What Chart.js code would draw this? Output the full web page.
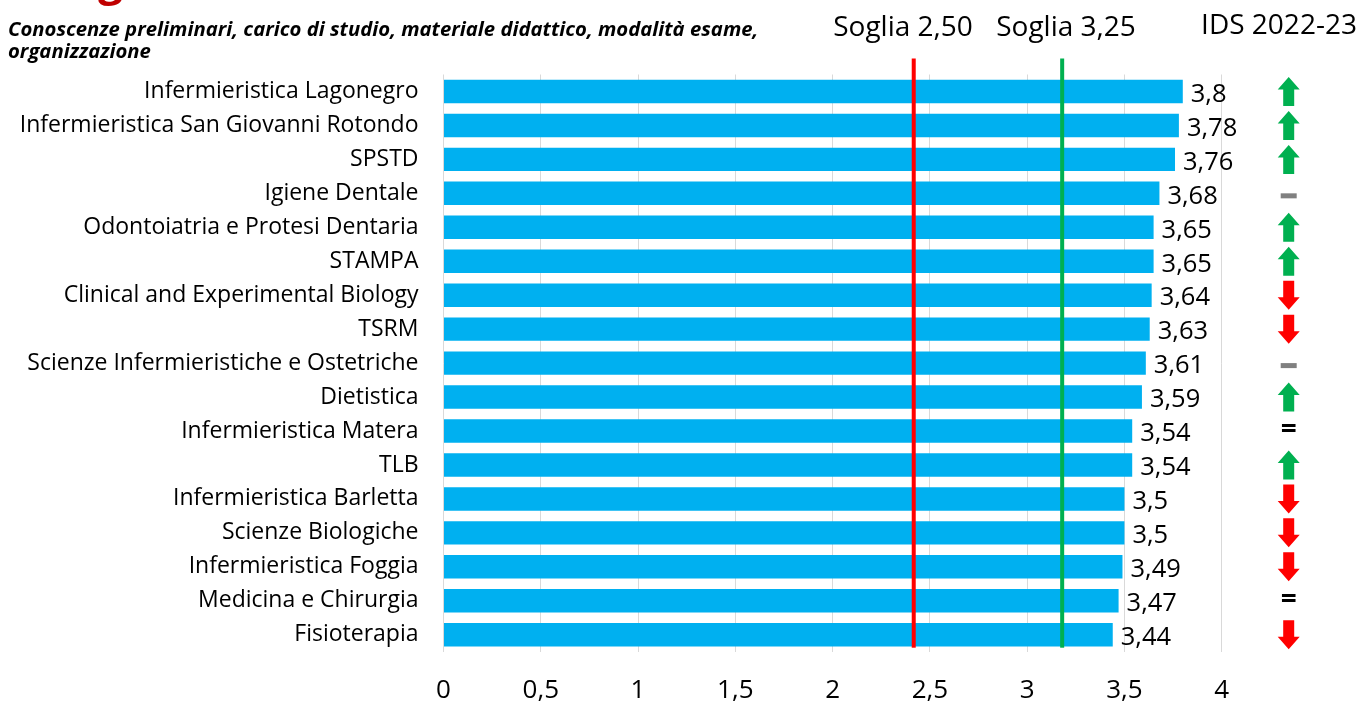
<!DOCTYPE html>
<html>
<head>
<meta charset="utf-8">
<script src="https://cdn.jsdelivr.net/npm/chart.js@4.4.1/dist/chart.umd.min.js"></script>
<style>
  html, body { margin: 0; padding: 0; background: #fff; overflow: hidden; }
  #wrap { width: 1372px; height: 720px; }
</style>
</head>
<body>
<div id="wrap"><canvas id="chart" width="1372" height="720"></canvas></div>
<script>
// data
const courses = [
    'Infermieristica Lagonegro',
    'Infermieristica San Giovanni Rotondo',
    'SPSTD',
    'Igiene Dentale',
    'Odontoiatria e Protesi Dentaria',
    'STAMPA',
    'Clinical and Experimental Biology',
    'TSRM',
    'Scienze Infermieristiche e Ostetriche',
    'Dietistica',
    'Infermieristica Matera',
    'TLB',
    'Infermieristica Barletta',
    'Scienze Biologiche',
    'Infermieristica Foggia',
    'Medicina e Chirurgia',
    'Fisioterapia'
];
const scores = [3.8, 3.78, 3.76, 3.68, 3.65, 3.65, 3.64, 3.63, 3.61, 3.59, 3.54, 3.54, 3.5, 3.5, 3.49, 3.47, 3.44];
// trend vs previous year: up / down / flat (grey dash) / same (=)
const trends = ['up', 'up', 'up', 'flat', 'up', 'up', 'down', 'down', 'flat', 'up', 'same', 'up', 'down', 'down', 'down', 'same', 'down'];
const xTicks = [0, 0.5, 1, 1.5, 2, 2.5, 3, 3.5, 4];
// where the threshold lines sit in the picture (labelled 2,50 and 3,25)
const thresholdAt = [2.417, 3.18];
const thresholdLabels = ['Soglia 2,50', 'Soglia 3,25'];
const thresholdColors = ['#FF0000', '#00B050'];
const subtitle = ['Conoscenze preliminari, carico di studio, materiale didattico, modalità esame,', 'organizzazione'];

const FONT = '"Open Sans", Lato, sans-serif';
const comma = v => String(v).replace('.', ',');

const overlay = {
    id: 'overlay',
    afterDatasetsDraw(chart) {
        const ctx = chart.ctx;
        const area = chart.chartArea;
        const x = chart.scales.x;
        const y = chart.scales.y;
        ctx.save();

        // value labels
        ctx.fillStyle = '#000';
        ctx.font = '25.5px ' + FONT;
        ctx.textAlign = 'left';
        ctx.textBaseline = 'middle';
        chart.getDatasetMeta(0).data.forEach((bar, i) => {
            ctx.fillText(comma(scores[i]), bar.x + 8, bar.y + 3);
        });

        // threshold lines
        thresholdAt.forEach((v, i) => {
            const px = x.getPixelForValue(v);
            ctx.fillStyle = thresholdColors[i];
            ctx.fillRect(px - 2, area.top - 16, 4, area.bottom - area.top + 12);
        });

        // trend markers
        const cx = area.right + 67;
        trends.forEach((t, i) => {
            const cy = y.getPixelForValue(i);
            if (t === 'up' || t === 'down') {
                const d = t === 'up' ? -1 : 1;
                ctx.fillStyle = t === 'up' ? '#00B050' : '#FF0000';
                ctx.beginPath();
                ctx.moveTo(cx, cy + d * 14.5);
                ctx.lineTo(cx + 11, cy + d * 2);
                ctx.lineTo(cx + 5.5, cy + d * 2);
                ctx.lineTo(cx + 5.5, cy - d * 14.5);
                ctx.lineTo(cx - 5.5, cy - d * 14.5);
                ctx.lineTo(cx - 5.5, cy + d * 2);
                ctx.lineTo(cx - 11, cy + d * 2);
                ctx.closePath();
                ctx.fill();
            } else if (t === 'flat') {
                ctx.fillStyle = '#808080';
                ctx.fillRect(cx - 8, cy, 16, 5);
            } else {
                ctx.fillStyle = '#000';
                ctx.font = 'bold 28px ' + FONT;
                ctx.textAlign = 'center';
                ctx.textBaseline = 'middle';
                ctx.fillText('=', cx, cy - 1);
            }
        });

        // headers
        ctx.fillStyle = '#000';
        ctx.font = '28px ' + FONT;
        ctx.textAlign = 'center';
        ctx.textBaseline = 'middle';
        ctx.fillText(thresholdLabels[0], 903, 28);
        ctx.fillText(thresholdLabels[1], 1066, 28);
        ctx.fillText('IDS 2022-23', 1279, 26);

        ctx.textAlign = 'left';
        ctx.font = 'italic bold 20.3px ' + FONT;
        ctx.fillText(subtitle[0], 8, 30);
        ctx.fillText(subtitle[1], 8, 52);

        // clipped page title above
        ctx.fillStyle = '#C00000';
        ctx.font = 'bold 44px ' + FONT;
        ctx.textBaseline = 'alphabetic';
        ctx.fillText('g', 98, -5);
        ctx.restore();
    }
};

new Chart(document.getElementById('chart'), {
    type: 'bar',
    data: {
        labels: courses,
        datasets: [{
            data: scores,
            backgroundColor: '#00B0F0',
            borderWidth: 0,
            barPercentage: 0.69,
            categoryPercentage: 1
        }]
    },
    options: {
        indexAxis: 'y',
        responsive: false,
        animation: false,
        devicePixelRatio: 1,
        layout: {
            padding: { top: 74.5, right: 150.3, bottom: 0, left: 0 }
        },
        scales: {
            x: {
                min: 0,
                max: 4,
                afterBuildTicks: s => { s.ticks = xTicks.map(v => ({ value: v })); },
                afterFit: s => { s.height = 720 - 651.7; },
                grid: { color: '#D9D9D9', lineWidth: 1, drawTicks: false },
                border: { display: false },
                ticks: {
                    padding: 23,
                    color: '#000',
                    font: { family: FONT, size: 26 },
                    callback: v => comma(v)
                }
            },
            y: {
                afterFit: s => { s.width = 443.5; },
                grid: { display: false, drawTicks: false },
                border: { display: false },
                ticks: {
                    padding: 25,
                    color: '#000',
                    font: { family: FONT, size: 23 },
                    autoSkip: false
                }
            }
        },
        plugins: {
            legend: { display: false },
            tooltip: { enabled: false }
        }
    },
    plugins: [overlay]
});
</script>
</body>
</html>
